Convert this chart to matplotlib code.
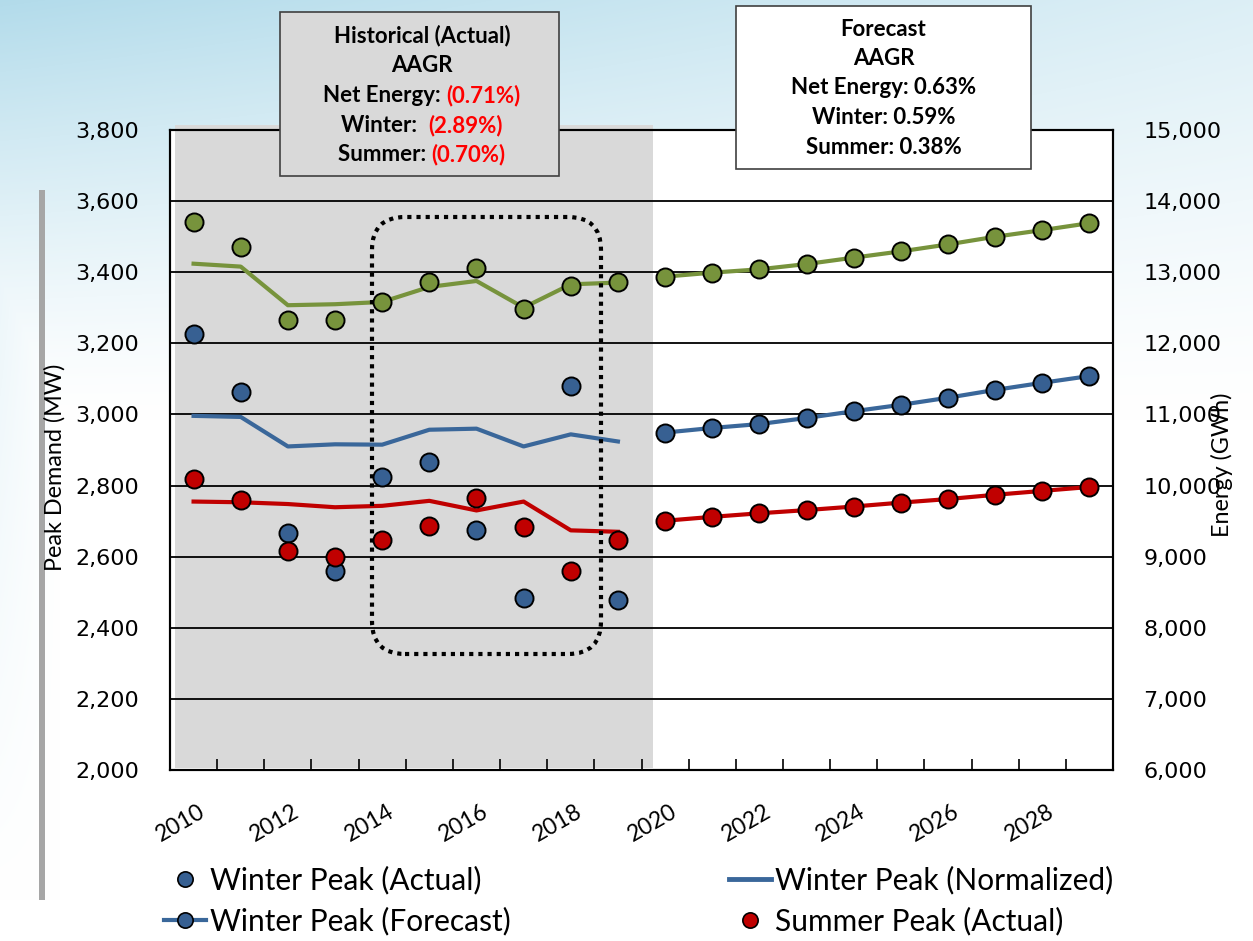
import numpy as np
import matplotlib.pyplot as plt
from matplotlib.patches import FancyBboxPatch, Rectangle
from matplotlib.lines import Line2D
from matplotlib.ticker import FuncFormatter

years = list(range(2010, 2030))
hist_idx = list(range(0, 10))
fcst_idx = list(range(10, 20))

winter_actual = [3225, 3063, 2667, 2560, 2825, 2865, 2676, 2483, 3081, 2477]
winter_norm = [2996, 2993, 2910, 2916, 2915, 2957, 2960, 2910, 2944, 2924]
winter_fcst = [2949, 2962, 2973, 2990, 3009, 3027, 3047, 3069, 3089, 3108]
summer_actual = [2819, 2758, 2617, 2598, 2648, 2685, 2766, 2684, 2559, 2646]
summer_norm = [2755, 2753, 2748, 2739, 2743, 2757, 2730, 2755, 2674, 2670]
summer_fcst = [2701, 2712, 2722, 2731, 2741, 2752, 2762, 2774, 2785, 2796]
energy_actual = [13710, 13353, 12335, 12335, 12582, 12868, 13055, 12489, 12807, 12868]
energy_norm = [13120, 13079, 12536, 12550, 12582, 12793, 12877, 12503, 12830, 12854]
energy_fcst = [12938, 12994, 13041, 13115, 13205, 13293, 13391, 13499, 13592, 13690]

hist_lines = ['Historical (Actual)', 'AAGR',
              ('Net Energy: ', '(0.71%)'), ('Winter:  ', '(2.89%)'), ('Summer: ', '(0.70%)')]
fcst_lines = ['Forecast', 'AAGR', 'Net Energy: 0.63%', 'Winter: 0.59%', 'Summer: 0.38%']

GREEN = '#77933c'
BLUE = '#376092'
BLUE_LINE = '#3a679a'
RED = '#c00000'
NARROW = 'Lato'

W, H = 1253, 941
fig = plt.figure(figsize=(W / 100, H / 100), dpi=100)

# background gradient
bg = fig.add_axes([0, 0, 1, 1], zorder=-5)
yy, xx = np.mgrid[0:H, 0:W]
a = np.clip(1 - yy / 420, 0, 1) ** 1.3 * (1 - 0.55 * xx / W)
a = np.maximum(a, 0.35 * np.clip(1 - xx / 60, 0, 1) * np.clip(1 - yy / 900, 0, 1))
base = np.array([0.70, 0.86, 0.92])
img = 1 - a[..., None] * (1 - base)
bg.imshow(img, aspect='auto', extent=[0, W, H, 0])
bg.set_xlim(0, W)
bg.set_ylim(H, 0)
bg.axis('off')
bg.add_patch(Rectangle((39, 190), 6, 710, color='#a6a6a6', lw=0))


def fx(px):
    return px / W


def fy(py):
    return 1 - py / H


ax = fig.add_axes([fx(170), fy(770), fx(1113) - fx(170), fy(130) - fy(770)])
ax.set_facecolor('white')
ax2 = ax.twinx()

x = np.arange(len(years))
xh = x[hist_idx]
xf = x[fcst_idx]

# shaded historical area
ax.add_patch(Rectangle((-0.4, 0.003), 10.15, 1.005, transform=ax.get_xaxis_transform(),
                       color='#d9d9d9', lw=0, zorder=0.2, clip_on=False))

ax.set_xlim(-0.5, 19.5)
ax.set_ylim(2000, 3800)
ax2.set_ylim(6000, 15000)
ax.set_yticks(np.arange(2000, 3801, 200))
ax2.set_yticks(np.arange(6000, 15001, 1000))
fmt = FuncFormatter(lambda v, p: f'{int(v):,}')
ax.yaxis.set_major_formatter(fmt)
ax2.yaxis.set_major_formatter(fmt)
ax.set_axisbelow(True)
ax.grid(axis='y', color='black', lw=1.3, zorder=0.5)
for a_ in (ax, ax2):
    a_.tick_params(axis='y', length=0, labelsize=16, pad=22)
    for s in a_.spines.values():
        s.set_linewidth(1.5)
        s.set_color('black')

ax.set_xticks(np.arange(-0.5, 20, 1))
ax.set_xticklabels([])
ax.tick_params(axis='x', which='major', direction='in', length=8, width=1.2)
ax.set_xticks(x[::2] + 0.1, minor=True)
ax.set_xticklabels([str(y) for y in years[::2]], minor=True, rotation=30,
                   ha='right', va='top', rotation_mode='anchor', fontsize=16.5, family=NARROW)
ax.tick_params(axis='x', which='minor', length=0, pad=22)

mk = dict(marker='o', markersize=13, markeredgecolor='black', markeredgewidth=1.4)

# winter
ax.plot(xh, winter_norm, color=BLUE_LINE, lw=3, zorder=2)
ax.plot(xf, winter_fcst, color=BLUE_LINE, lw=3, zorder=2)
ax.plot(xf, winter_fcst, ls='none', color=BLUE, **mk, zorder=3)
ax.plot(xh, winter_actual, ls='none', color=BLUE, **mk, zorder=3)
# summer
ax.plot(xh, summer_norm, color=RED, lw=3, zorder=2)
ax.plot(xf, summer_fcst, color=RED, lw=3, zorder=2)
ax.plot(xf, summer_fcst, ls='none', color=RED, **mk, zorder=3)
ax.plot(xh, summer_actual, ls='none', color=RED, **mk, zorder=3)
# energy
ax2.plot(xh, energy_norm, color=GREEN, lw=3, zorder=2)
ax2.plot(xf, energy_fcst, color=GREEN, lw=3, zorder=2)
ax2.plot(xf, energy_fcst, ls='none', color=GREEN, **mk, zorder=3)
ax2.plot(xh, energy_actual, ls='none', color=GREEN, **mk, zorder=3)

# dotted rounded box around 2014-2018
aw, ah = 943, 640
bx0, by0 = (372 - 170) / aw, (770 - 654) / ah
bw, bh = (601 - 372) / aw, (654 - 217) / ah
ax2.add_patch(FancyBboxPatch((bx0, by0), bw, bh, boxstyle='round,pad=0,rounding_size=0.035',
                             mutation_aspect=aw / ah, transform=ax2.transAxes, fill=False,
                             ec='black', lw=3, ls=(0, (1, 1.2)), zorder=2.5))

# AAGR boxes
fig.patches.append(Rectangle((fx(280), fy(176)), fx(559) - fx(280), fy(12) - fy(176),
                             transform=fig.transFigure, fc='#d9d9d9', ec='#404040', lw=1.2, zorder=5))
fig.patches.append(Rectangle((fx(736), fy(169)), fx(1031) - fx(736), fy(6) - fy(169),
                             transform=fig.transFigure, fc='white', ec='#404040', lw=1.2, zorder=5))

tkw = dict(fontsize=16, fontweight='bold', family=NARROW, va='center', zorder=6)
fig.canvas.draw()
r = fig.canvas.get_renderer()
for i, line in enumerate(hist_lines):
    yc = fy(36 + i * 29.7)
    cx = fx(422)
    if isinstance(line, str):
        fig.text(cx, yc, line, ha='center', **tkw)
    else:
        t1 = fig.text(0, yc, line[0], ha='left', color='black', **tkw)
        t2 = fig.text(0, yc, line[1], ha='left', color='#ff0000', **tkw)
        w1 = t1.get_window_extent(r).width / W
        w2 = t2.get_window_extent(r).width / W
        start = cx - (w1 + w2) / 2
        t1.set_x(start)
        t2.set_x(start + w1)
for i, line in enumerate(fcst_lines):
    fig.text(fx(883.5), fy(29 + i * 29.5), line, ha='center', **tkw)

fig.text(fx(55), fy(467), 'Peak Demand (MW)', rotation=90, ha='center', va='center',
         fontsize=16.8, family=NARROW)
fig.text(fx(1222), fy(465), 'Energy (GWh)', rotation=90, ha='center', va='center',
         fontsize=16.8, family=NARROW)

h_wa = Line2D([], [], ls='none', color=BLUE, marker='o', markersize=11,
              markeredgecolor='black', markeredgewidth=1.2)
h_wf = Line2D([], [], color=BLUE_LINE, lw=3, marker='o', markersize=11,
              markerfacecolor=BLUE, markeredgecolor='black', markeredgewidth=1.2)
h_wn = Line2D([], [], color=BLUE_LINE, lw=3.5)
h_sa = Line2D([], [], ls='none', color=RED, marker='o', markersize=11,
              markeredgecolor='black', markeredgewidth=1.2)
fig.legend([h_wa, h_wf, h_wn, h_sa],
           ['Winter Peak (Actual)', 'Winter Peak (Forecast)',
            'Winter Peak (Normalized)', 'Summer Peak (Actual)'],
           ncol=2, loc='upper left', bbox_to_anchor=(fx(152), fy(854)), frameon=False,
           prop={'family': NARROW, 'size': 21.5}, handlelength=1.4, handletextpad=0.15,
           columnspacing=7.3, labelspacing=0.4, borderaxespad=0)

fig.savefig('out.png', dpi=100)
